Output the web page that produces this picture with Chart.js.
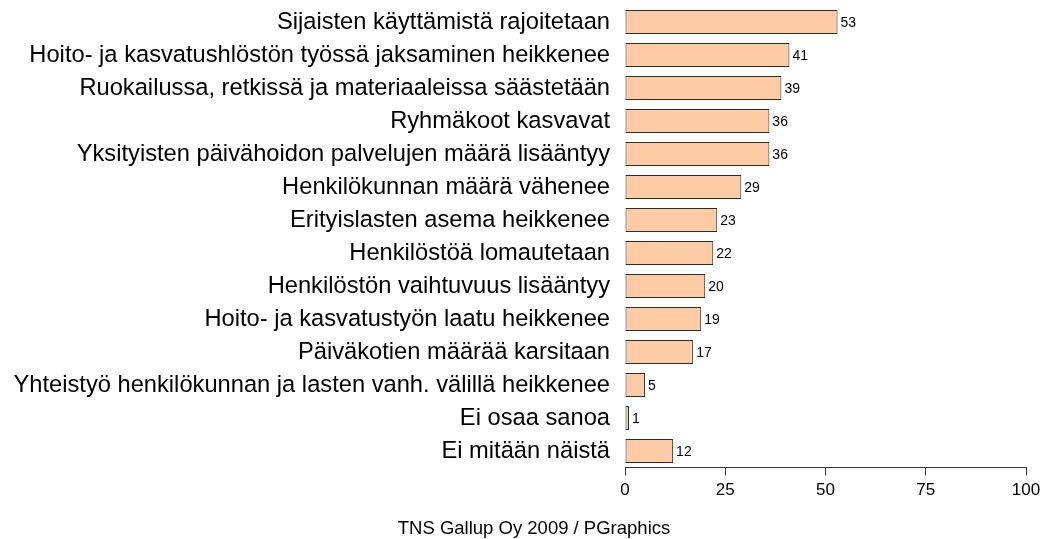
<!DOCTYPE html>
<html>
<head>
<meta charset="utf-8">
<script src="https://cdn.jsdelivr.net/npm/chart.js@4"></script>
<style>
html,body{margin:0;padding:0;background:#fff;}
#wrap{position:relative;width:1047px;height:539px;}
</style>
</head>
<body>
<div id="wrap"><canvas id="c" width="1047" height="539"></canvas></div>
<script>
const categories = [
  "Sijaisten käyttämistä rajoitetaan",
  "Hoito- ja kasvatushlöstön työssä jaksaminen heikkenee",
  "Ruokailussa, retkissä ja materiaaleissa säästetään",
  "Ryhmäkoot kasvavat",
  "Yksityisten päivähoidon palvelujen määrä lisääntyy",
  "Henkilökunnan määrä vähenee",
  "Erityislasten asema heikkenee",
  "Henkilöstöä lomautetaan",
  "Henkilöstön vaihtuvuus lisääntyy",
  "Hoito- ja kasvatustyön laatu heikkenee",
  "Päiväkotien määrää karsitaan",
  "Yhteistyö henkilökunnan ja lasten vanh. välillä heikkenee",
  "Ei osaa sanoa",
  "Ei mitään näistä"
];
const values = [53, 41, 39, 36, 36, 29, 23, 22, 20, 19, 17, 5, 1, 12];
const xTicks = [0, 25, 50, 75, 100];
const caption = "TNS Gallup Oy 2009 / PGraphics";

const FONT = "'Liberation Sans', Arial, sans-serif";

const valueLabels = {
  id: 'valueLabels',
  afterDatasetsDraw(chart) {
    const ctx = chart.ctx;
    const meta = chart.getDatasetMeta(0);
    ctx.save();
    ctx.font = "14px " + FONT;
    ctx.fillStyle = "#000";
    ctx.textAlign = "left";
    ctx.textBaseline = "middle";
    meta.data.forEach((bar, i) => {
      ctx.fillText(String(values[i]), bar.x + 3, bar.y + 1);
    });
    ctx.restore();
  }
};
const captionPlugin = {
  id: 'captionPlugin',
  afterDraw(chart) {
    const ctx = chart.ctx;
    ctx.save();
    ctx.font = "18.5px " + FONT;
    ctx.fillStyle = "#000";
    ctx.textAlign = "center";
    ctx.textBaseline = "alphabetic";
    ctx.fillText(caption, 534, 534);
    ctx.restore();
  }
};

new Chart(document.getElementById('c'), {
  type: 'bar',
  data: {
    labels: categories,
    datasets: [{
      data: values,
      backgroundColor: '#FFCBA4',
      borderColor: '#2b2b2b',
      borderWidth: 1,
      borderSkipped: false,
      categoryPercentage: 1,
      barPercentage: 0.72
    }]
  },
  options: {
    indexAxis: 'y',
    responsive: false,
    animation: false,
    layout: { padding: { top: 5.5, right: 21, bottom: 31.5, left: 0 } },
    plugins: { legend: { display: false }, tooltip: { enabled: false } },
    scales: {
      x: {
        min: 0, max: 100,
        afterBuildTicks(scale) { scale.ticks = xTicks.map(v => ({ value: v })); },
        afterFit(scale) { scale.height = 40; scale.paddingLeft = 0; scale.paddingRight = 0; },
        grid: { display: true, drawOnChartArea: false, drawTicks: true, tickLength: 8, color: '#333', lineWidth: 1 },
        border: { display: true, color: '#333', width: 1 },
        ticks: { color: '#000', font: { family: FONT, size: 17 }, padding: 5, maxRotation: 0 },
      },
      y: {
        afterFit(scale) { scale.width = 625; scale.paddingTop = 0; scale.paddingBottom = 0; },
        grid: { display: false, drawTicks: false },
        border: { display: false },
        ticks: { color: '#000', font: { family: FONT, size: 23.7 }, padding: 15, autoSkip: false }
      }
    }
  },
  plugins: [valueLabels, captionPlugin]
});
</script>
</body>
</html>
